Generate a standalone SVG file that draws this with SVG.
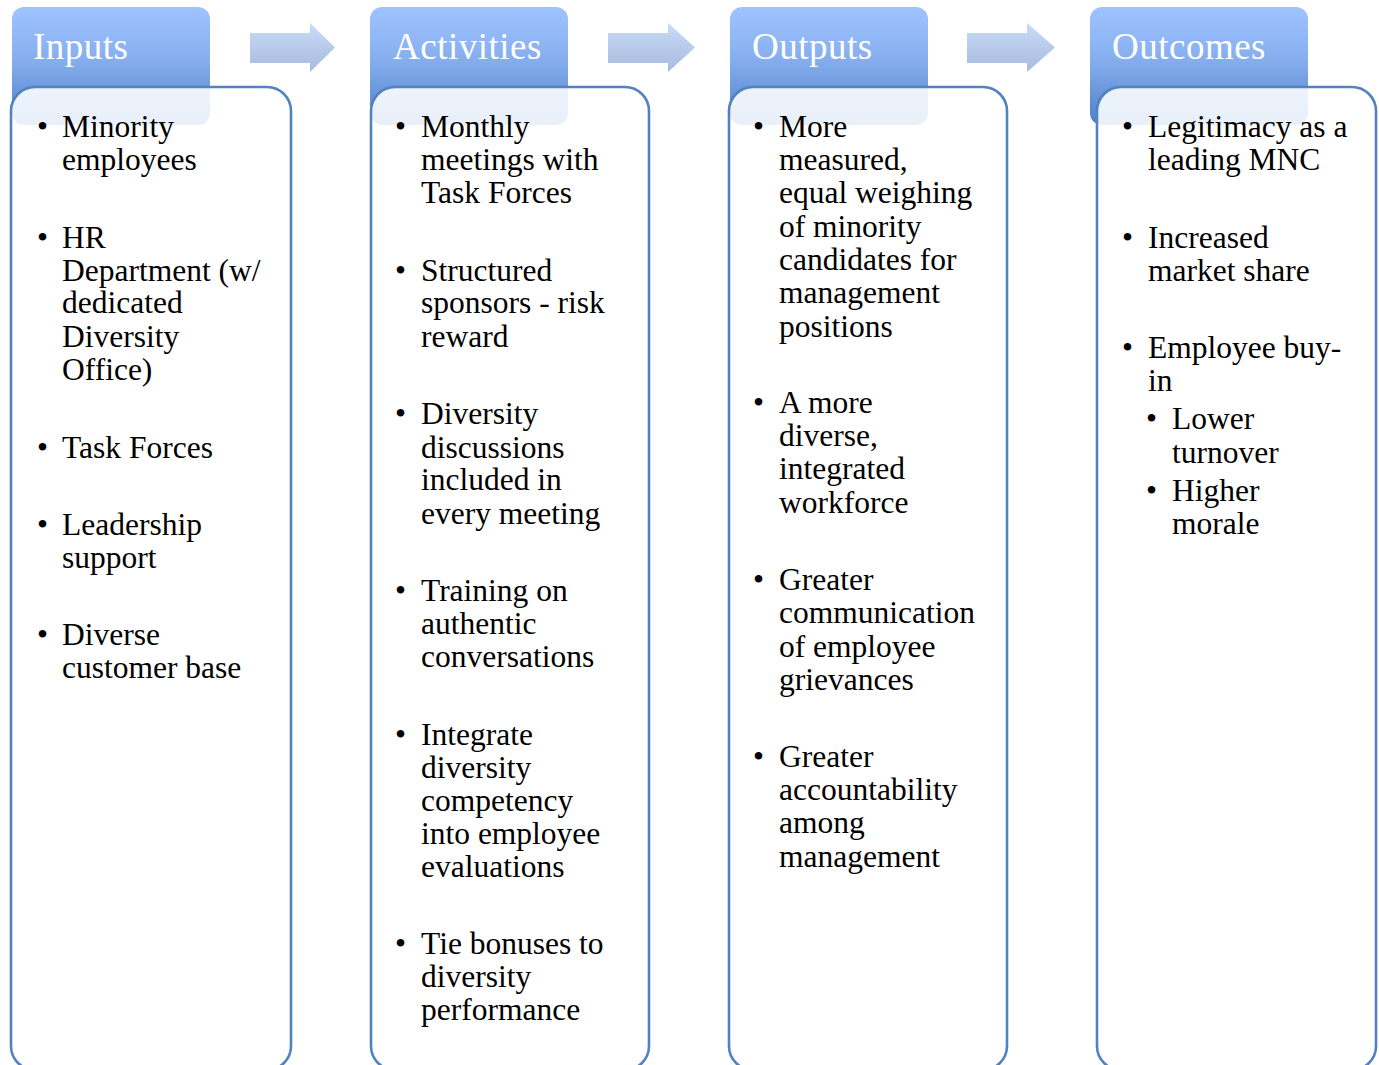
<svg xmlns="http://www.w3.org/2000/svg" width="1379" height="1065" viewBox="0 0 1379 1065">
  <defs>
    <linearGradient id="hdrGrad" x1="0" y1="0" x2="0" y2="1">
      <stop offset="0" stop-color="#9fc3ff"/>
      <stop offset="0.45" stop-color="#86aeee"/>
      <stop offset="1" stop-color="#4d7fc6"/>
    </linearGradient>
    <linearGradient id="arrowGrad" x1="0" y1="0" x2="0" y2="1">
      <stop offset="0" stop-color="#c9dbf7"/>
      <stop offset="1" stop-color="#a7bbdf"/>
    </linearGradient>
    <style>
      .hdr { fill: url(#hdrGrad); }
      .panel { fill: #ffffff; fill-opacity: 0.88; stroke: #5282c0; stroke-width: 2.6; }
      .title { font-family: "Liberation Serif", "DejaVu Serif", serif; font-size: 37px; fill: #ffffff; letter-spacing: 0.5px; }
      .body { font-family: "Liberation Serif", "DejaVu Serif", serif; font-size: 31.5px; fill: #000000; }
      .arrow { fill: url(#arrowGrad); }
    </style>
  </defs>

  <!-- connectors: block arrows between stages -->
  <g id="connectors">
    <path class="arrow" d="M250,33 H310 V23 L335,47.5 L310,72 V63 H250 Z"/>
    <path class="arrow" d="M608,33 H668 V23 L695,47.5 L668,72 V63 H608 Z"/>
    <path class="arrow" d="M967,33 H1027 V23 L1055,47.5 L1027,72 V63 H967 Z"/>
  </g>

  <!-- Inputs -->
  <g id="inputs">
    <rect class="hdr" x="12" y="7" width="198" height="118" rx="12"/>
    <rect class="panel" x="11" y="87" width="280" height="983" rx="24"/>
    <text class="title" x="33" y="59">Inputs</text>
    <text class="body">
      <tspan x="37" y="137">•</tspan><tspan x="62" y="137">Minority</tspan>
      <tspan x="62" y="170">employees</tspan>
      <tspan x="37" y="248">•</tspan><tspan x="62" y="248">HR</tspan>
      <tspan x="62" y="281">Department (w/</tspan>
      <tspan x="62" y="313">dedicated</tspan>
      <tspan x="62" y="347">Diversity</tspan>
      <tspan x="62" y="380">Office)</tspan>
      <tspan x="37" y="458">•</tspan><tspan x="62" y="458">Task Forces</tspan>
      <tspan x="37" y="535">•</tspan><tspan x="62" y="535">Leadership</tspan>
      <tspan x="62" y="568">support</tspan>
      <tspan x="37" y="645">•</tspan><tspan x="62" y="645">Diverse</tspan>
      <tspan x="62" y="678">customer base</tspan>
    </text>
  </g>

  <!-- Activities -->
  <g id="activities">
    <rect class="hdr" x="370" y="7" width="198" height="118" rx="12"/>
    <rect class="panel" x="371" y="87" width="278" height="983" rx="24"/>
    <text class="title" x="393" y="59">Activities</text>
    <text class="body">
      <tspan x="395" y="137">•</tspan><tspan x="421" y="137">Monthly</tspan>
      <tspan x="421" y="170">meetings with</tspan>
      <tspan x="421" y="203">Task Forces</tspan>
      <tspan x="395" y="281">•</tspan><tspan x="421" y="281">Structured</tspan>
      <tspan x="421" y="313">sponsors - risk</tspan>
      <tspan x="421" y="347">reward</tspan>
      <tspan x="395" y="424">•</tspan><tspan x="421" y="424">Diversity</tspan>
      <tspan x="421" y="458">discussions</tspan>
      <tspan x="421" y="490">included in</tspan>
      <tspan x="421" y="524">every meeting</tspan>
      <tspan x="395" y="601">•</tspan><tspan x="421" y="601">Training on</tspan>
      <tspan x="421" y="634">authentic</tspan>
      <tspan x="421" y="667">conversations</tspan>
      <tspan x="395" y="745">•</tspan><tspan x="421" y="745">Integrate</tspan>
      <tspan x="421" y="778">diversity</tspan>
      <tspan x="421" y="811">competency</tspan>
      <tspan x="421" y="844">into employee</tspan>
      <tspan x="421" y="877">evaluations</tspan>
      <tspan x="395" y="954">•</tspan><tspan x="421" y="954">Tie bonuses to</tspan>
      <tspan x="421" y="987">diversity</tspan>
      <tspan x="421" y="1020">performance</tspan>
    </text>
  </g>

  <!-- Outputs -->
  <g id="outputs">
    <rect class="hdr" x="730" y="7" width="198" height="118" rx="12"/>
    <rect class="panel" x="729" y="87" width="278" height="983" rx="24"/>
    <text class="title" x="752" y="59">Outputs</text>
    <text class="body">
      <tspan x="753" y="137">•</tspan><tspan x="779" y="137">More</tspan>
      <tspan x="779" y="170">measured,</tspan>
      <tspan x="779" y="203">equal weighing</tspan>
      <tspan x="779" y="237">of minority</tspan>
      <tspan x="779" y="270">candidates for</tspan>
      <tspan x="779" y="303">management</tspan>
      <tspan x="779" y="337">positions</tspan>
      <tspan x="753" y="413">•</tspan><tspan x="779" y="413">A more</tspan>
      <tspan x="779" y="446">diverse,</tspan>
      <tspan x="779" y="479">integrated</tspan>
      <tspan x="779" y="513">workforce</tspan>
      <tspan x="753" y="590">•</tspan><tspan x="779" y="590">Greater</tspan>
      <tspan x="779" y="623">communication</tspan>
      <tspan x="779" y="657">of employee</tspan>
      <tspan x="779" y="690">grievances</tspan>
      <tspan x="753" y="767">•</tspan><tspan x="779" y="767">Greater</tspan>
      <tspan x="779" y="800">accountability</tspan>
      <tspan x="779" y="833">among</tspan>
      <tspan x="779" y="867">management</tspan>
    </text>
  </g>

  <!-- Outcomes -->
  <g id="outcomes">
    <rect class="hdr" x="1090" y="7" width="218" height="118" rx="12"/>
    <rect class="panel" x="1097" y="87" width="279" height="983" rx="24"/>
    <text class="title" x="1112" y="59">Outcomes</text>
    <text class="body">
      <tspan x="1122" y="137">•</tspan><tspan x="1148" y="137">Legitimacy as a</tspan>
      <tspan x="1148" y="170">leading MNC</tspan>
      <tspan x="1122" y="248">•</tspan><tspan x="1148" y="248">Increased</tspan>
      <tspan x="1148" y="281">market share</tspan>
      <tspan x="1122" y="358">•</tspan><tspan x="1148" y="358">Employee buy-</tspan>
      <tspan x="1148" y="391">in</tspan>
      <tspan x="1146" y="429">•</tspan><tspan x="1172" y="429">Lower</tspan>
      <tspan x="1172" y="463">turnover</tspan>
      <tspan x="1146" y="501">•</tspan><tspan x="1172" y="501">Higher</tspan>
      <tspan x="1172" y="534">morale</tspan>
    </text>
  </g>
</svg>
